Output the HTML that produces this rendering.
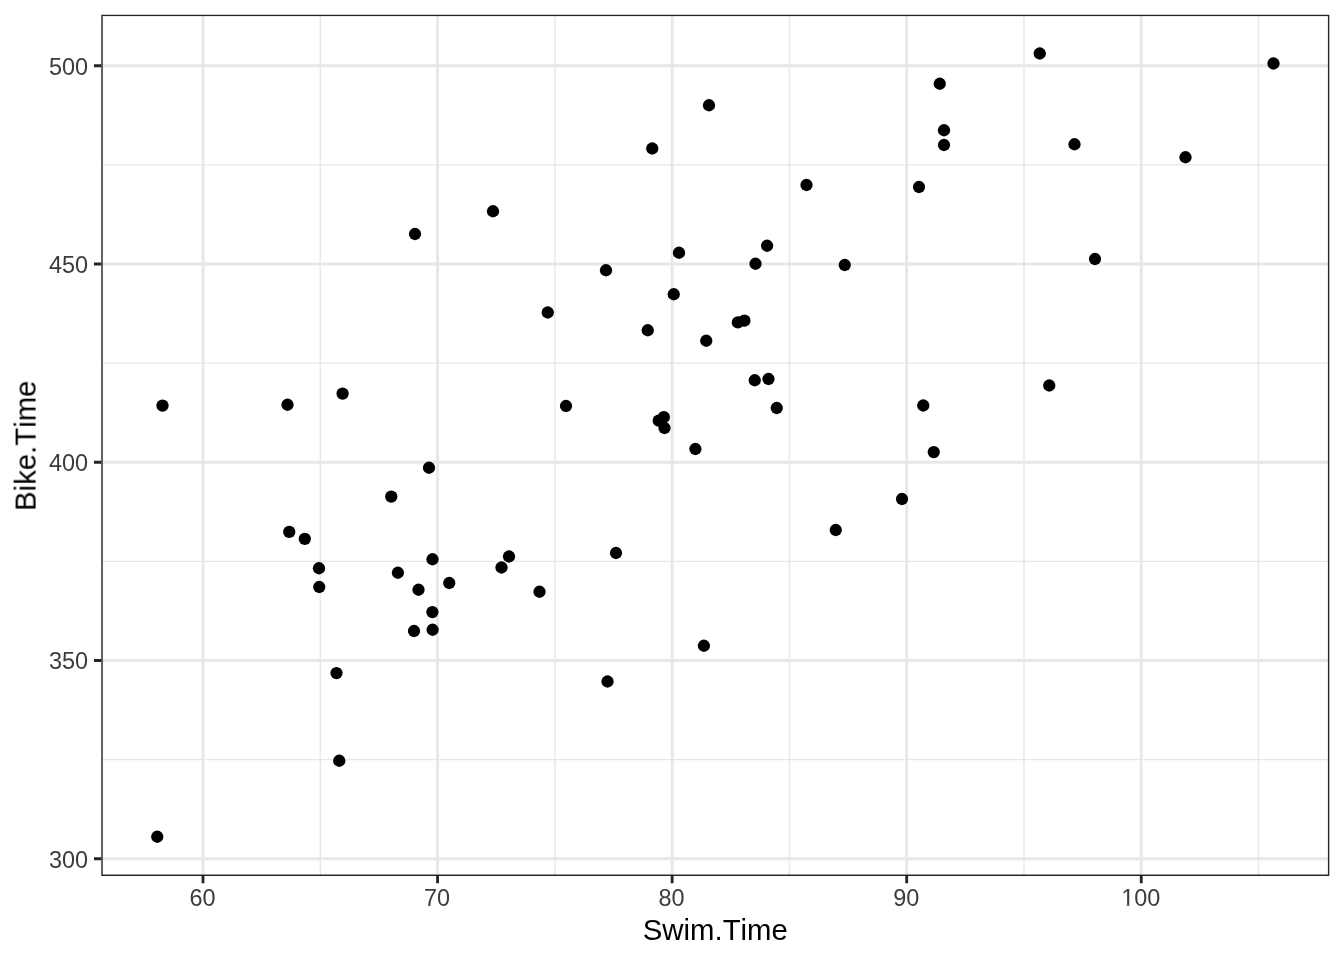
<!DOCTYPE html>
<html><head><meta charset="utf-8"><title>Swim.Time vs Bike.Time</title>
<style>html,body{margin:0;padding:0;background:#fff;overflow:hidden;}svg{display:block;}text{will-change:transform;font-kerning:none;}</style></head><body>
<svg width="1344" height="960" viewBox="0 0 1344 960">
<rect x="0" y="0" width="1344" height="960" fill="#fff"/>
<clipPath id="pc"><rect x="101.3" y="14.67" width="1228.03" height="861.28"/></clipPath>
<g clip-path="url(#pc)">
<path d="M320.28 14.67V875.95M554.84 14.67V875.95M789.40 14.67V875.95M1023.96 14.67V875.95M1258.52 14.67V875.95M101.3 759.62H1329.33M101.3 561.38H1329.33M101.3 363.12H1329.33M101.3 164.88H1329.33" stroke="#e7e7e7" stroke-width="1.42" fill="none"/>
<path d="M203.00 14.67V875.95M437.56 14.67V875.95M672.12 14.67V875.95M906.68 14.67V875.95M1141.24 14.67V875.95M101.3 858.75H1329.33M101.3 660.50H1329.33M101.3 462.25H1329.33M101.3 264.00H1329.33M101.3 65.75H1329.33" stroke="#e7e7e7" stroke-width="2.85" fill="none"/>
<g fill="#000">
<circle cx="162.5" cy="405.6" r="6.15"/>
<circle cx="287.5" cy="404.75" r="6.15"/>
<circle cx="342.6" cy="393.6" r="6.15"/>
<circle cx="429" cy="467.75" r="6.15"/>
<circle cx="391.25" cy="496.6" r="6.15"/>
<circle cx="289.25" cy="531.9" r="6.15"/>
<circle cx="304.8" cy="538.8" r="6.15"/>
<circle cx="415" cy="234" r="6.15"/>
<circle cx="709" cy="105.25" r="6.15"/>
<circle cx="652.25" cy="148.5" r="6.15"/>
<circle cx="493" cy="211.25" r="6.15"/>
<circle cx="1039.75" cy="53.5" r="6.15"/>
<circle cx="939.75" cy="83.75" r="6.15"/>
<circle cx="944" cy="130.25" r="6.15"/>
<circle cx="944" cy="145" r="6.15"/>
<circle cx="1074.5" cy="144.25" r="6.15"/>
<circle cx="806.5" cy="185" r="6.15"/>
<circle cx="919" cy="187" r="6.15"/>
<circle cx="1185.5" cy="157.25" r="6.15"/>
<circle cx="1273.5" cy="63.5" r="6.15"/>
<circle cx="679" cy="252.75" r="6.15"/>
<circle cx="606" cy="270.25" r="6.15"/>
<circle cx="755.5" cy="263.75" r="6.15"/>
<circle cx="767.1" cy="245.75" r="6.15"/>
<circle cx="673.75" cy="294.25" r="6.15"/>
<circle cx="547.75" cy="312.5" r="6.15"/>
<circle cx="647.75" cy="330.25" r="6.15"/>
<circle cx="706.25" cy="340.75" r="6.15"/>
<circle cx="737.9" cy="322.4" r="6.15"/>
<circle cx="744.4" cy="320.7" r="6.15"/>
<circle cx="754.75" cy="380.25" r="6.15"/>
<circle cx="768.5" cy="379" r="6.15"/>
<circle cx="776.75" cy="408" r="6.15"/>
<circle cx="566" cy="406" r="6.15"/>
<circle cx="658.75" cy="420.7" r="6.15"/>
<circle cx="663.8" cy="417.2" r="6.15"/>
<circle cx="664.5" cy="428" r="6.15"/>
<circle cx="695.4" cy="449" r="6.15"/>
<circle cx="844.75" cy="265" r="6.15"/>
<circle cx="923.25" cy="405.5" r="6.15"/>
<circle cx="933.75" cy="452.1" r="6.15"/>
<circle cx="1049.25" cy="385.5" r="6.15"/>
<circle cx="1095" cy="259" r="6.15"/>
<circle cx="319" cy="568.25" r="6.15"/>
<circle cx="319.25" cy="587" r="6.15"/>
<circle cx="397.9" cy="572.75" r="6.15"/>
<circle cx="418.5" cy="589.75" r="6.15"/>
<circle cx="432.5" cy="559.25" r="6.15"/>
<circle cx="432.4" cy="612.1" r="6.15"/>
<circle cx="414" cy="631" r="6.15"/>
<circle cx="432.6" cy="629.75" r="6.15"/>
<circle cx="336.5" cy="673.1" r="6.15"/>
<circle cx="449.25" cy="583" r="6.15"/>
<circle cx="509" cy="556.5" r="6.15"/>
<circle cx="501.5" cy="567.5" r="6.15"/>
<circle cx="539.5" cy="591.75" r="6.15"/>
<circle cx="616" cy="553" r="6.15"/>
<circle cx="703.9" cy="645.75" r="6.15"/>
<circle cx="902" cy="499" r="6.15"/>
<circle cx="835.75" cy="530" r="6.15"/>
<circle cx="339.25" cy="760.75" r="6.15"/>
<circle cx="157.25" cy="836.75" r="6.15"/>
<circle cx="607.5" cy="681.5" r="6.15"/>
</g>
<rect x="101.3" y="14.67" width="1228.03" height="861.28" fill="none" stroke="#252525" stroke-width="2.85"/>
</g>
<path d="M203.00 875.95v7.33M437.56 875.95v7.33M672.12 875.95v7.33M906.68 875.95v7.33M1141.24 875.95v7.33M101.3 858.75h-7.33M101.3 660.50h-7.33M101.3 462.25h-7.33M101.3 264.00h-7.33M101.3 65.75h-7.33" stroke="#252525" stroke-width="2.85" fill="none"/>
<g font-family="'Liberation Sans', Arial, sans-serif" font-size="23.47" fill="#3c3c3c">
<text transform="translate(88.1 867.60) scale(1.0 1.02)" text-anchor="end">300</text>
<text transform="translate(88.1 669.35) scale(1.0 1.02)" text-anchor="end">350</text>
<text transform="translate(88.1 471.10) scale(1.0 1.02)" text-anchor="end">400</text>
<text transform="translate(88.1 272.85) scale(1.0 1.02)" text-anchor="end">450</text>
<text transform="translate(88.1 74.60) scale(1.0 1.02)" text-anchor="end">500</text>
<text transform="translate(202.50 905.9) scale(1.0 1.02)" text-anchor="middle">60</text>
<text transform="translate(437.06 905.9) scale(1.0 1.02)" text-anchor="middle">70</text>
<text transform="translate(671.62 905.9) scale(1.0 1.02)" text-anchor="middle">80</text>
<text transform="translate(906.18 905.9) scale(1.0 1.02)" text-anchor="middle">90</text>
<text transform="translate(1140.74 905.9) scale(1.0 1.02)" text-anchor="middle">100</text>
</g>
<g transform="translate(1140.74 905.9) scale(1.0 1.02)" fill="#fff">
<rect x="-18.79" y="-2.05" width="5.11" height="3.05"/>
<rect x="-11.60" y="-2.05" width="4.93" height="3.05"/>
</g>
<g font-family="'Liberation Sans', Arial, sans-serif" font-size="29.33" fill="#000" text-anchor="middle">
<text transform="translate(715.3 939.8)">Swim.Time</text>
<text transform="translate(35.6 445.7) rotate(-90)">Bike.Time</text>
</g>
</svg></body></html>
